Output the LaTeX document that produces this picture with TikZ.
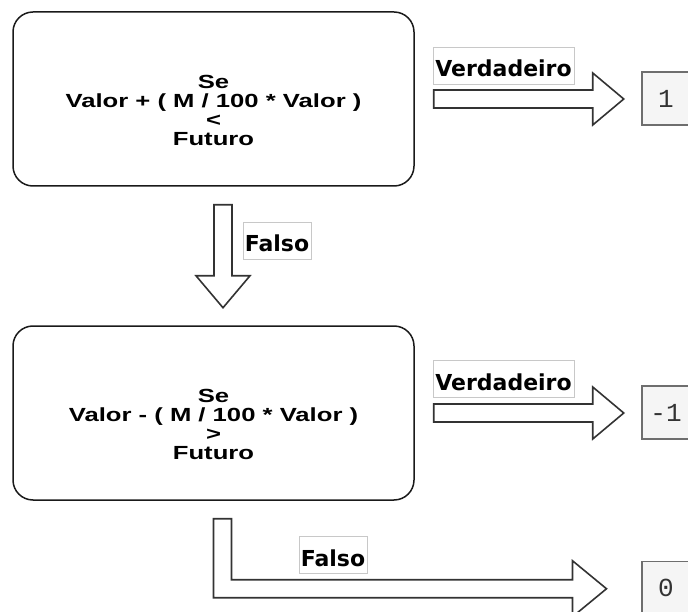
\documentclass[tikz,border=0pt]{standalone}
\usepackage{fontspec}
\usepackage{tikz}
\usetikzlibrary{positioning,calc}
\newfontfamily\condfont[FakeStretch=1.35]{Liberation Sans}
\newfontfamily\tagfont{DejaVu Sans}
\newfontfamily\valfont{Liberation Mono}
\definecolor{FlowInk}{HTML}{1A1A1A}
\definecolor{FlowLine}{HTML}{333333}
\definecolor{FlowTag}{HTML}{C8C8C8}
\definecolor{FlowOut}{HTML}{F5F5F5}
\definecolor{FlowOutLine}{HTML}{6E6E6E}
% pushes the condition text a bit below the middle of its box
\newcommand{\condtop}{\rule{0pt}{36.5pt}}

\begin{document}
\begin{tikzpicture}[x=1pt, y=-1pt,
  condbox/.style={draw=FlowInk, line width=1.5pt, rounded corners=20pt,
    minimum width=401pt, minimum height=174pt, align=center, inner sep=0pt,
    font=\condfont\bfseries\fontsize{19}{18.8}\selectfont},
  outbox/.style={draw=FlowOutLine, fill=FlowOut, line width=1.5pt,
    minimum width=48pt, minimum height=53pt, inner sep=0pt, text=FlowLine,
    font=\valfont\fontsize{26}{26}\selectfont},
  tagbox/.style={draw=FlowTag, fill=white, line width=0.8pt, inner sep=0pt,
    minimum height=37pt, text height=23pt, text depth=0pt,
    font=\tagfont\bfseries\fontsize{22}{22}\selectfont},
  blockarrow/.style={draw=FlowLine, fill=white, line width=1.6pt, line join=miter}]
\useasboundingbox (0,0) rectangle (688,612);

% Condition boxes
\node[condbox] (cond1) at (213.5,99) {\condtop Se\\Valor + ( M / 100 * Valor )\\<\\Futuro};
\node[condbox] (cond2) at (213.5,413) {\condtop Se\\Valor - ( M / 100 * Valor )\\>\\Futuro};

% Results
\node[outbox] (out1) at (666,98.5) {1};
\node[outbox] (out2) at (666,412.5) {-1};
\node[outbox] (out0) at (666,588) {0};

% True branches to the right
\foreach \c in {1,2}
{
  \draw[blockarrow] ($(cond\c.east)+(19,-9)$) -- ++(159,0) -- ++(0,-17)
    -- ++(31,26) -- ++(-31,26) -- ++(0,-17) -- ++(-159,0) -- cycle;
}

% False branch down to the second test
\draw[blockarrow] ($(cond1.south)+(0.5,18)$) -- ++(18,0) -- ++(0,71) -- ++(18,0)
  -- ++(-27,32) -- ++(-27,-32) -- ++(18,0) -- cycle;

% False branch of the second test, bent to the right
\draw[blockarrow] ($(cond2.south)+(0,18)$) -- ++(18,0) -- ++(0,61) -- ++(341,0)
  -- ++(0,-19) -- ++(34,28) -- ++(-34,28) -- ++(0,-19) -- ++(-359,0) -- cycle;

% Branch labels
\node[tagbox, minimum width=141pt] (tagT1) at (503.5,65.5) {Verdadeiro};
\node[tagbox, minimum width=141pt] (tagT2) at (503.5,378.5) {Verdadeiro};
\node[tagbox, minimum width=68pt] (tagF1) at (277,240.5) {Falso};
\node[tagbox, minimum width=68pt] (tagF2) at (333,555) {Falso};
\end{tikzpicture}
\end{document}
